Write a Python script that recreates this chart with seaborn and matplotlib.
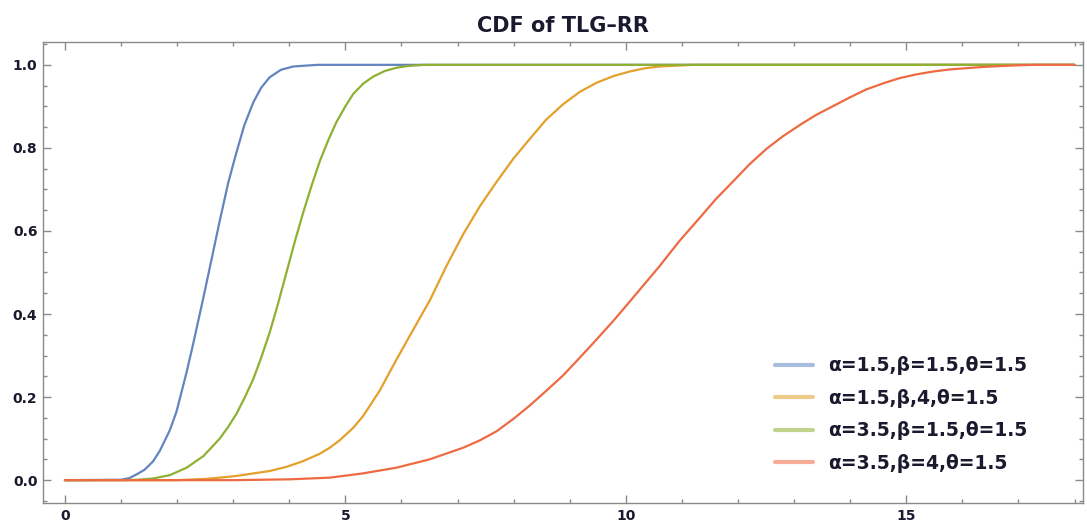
import pandas as pd
import matplotlib
matplotlib.use("Agg")
import matplotlib.pyplot as plt
import seaborn as sns
from matplotlib.ticker import MultipleLocator, FormatStrFormatter

# values
blue_x = [0, 1.0, 1.15, 1.28, 1.42, 1.57, 1.69, 1.87, 1.99, 2.17, 2.29, 2.47, 2.62, 2.76, 2.91,
          3.06, 3.2, 3.36, 3.5, 3.65, 3.85, 4.07, 4.5, 18]
blue_y = [0, 0.001, 0.005, 0.014, 0.025, 0.045, 0.07, 0.12, 0.165, 0.26, 0.33, 0.44, 0.535, 0.624, 0.715,
          0.79, 0.855, 0.91, 0.945, 0.97, 0.988, 0.996, 1.0, 1.0]

orange_x = [0, 2.0, 2.5, 2.76, 3.05, 3.35, 3.65, 3.95, 4.25, 4.55, 4.72, 4.9, 5.14, 5.32, 5.61, 5.91,
            6.2, 6.51, 6.8, 7.1, 7.4, 7.7, 8.0, 8.29, 8.58, 8.88, 9.18, 9.48, 9.78, 10.07, 10.35,
            10.6, 11.2, 18]
orange_y = [0, 0, 0.003, 0.006, 0.01, 0.016, 0.022, 0.032, 0.046, 0.064, 0.078, 0.096, 0.126, 0.155,
            0.215, 0.29, 0.36, 0.434, 0.515, 0.592, 0.66, 0.719, 0.775, 0.822, 0.868, 0.905, 0.935,
            0.957, 0.973, 0.984, 0.992, 0.996, 1.0, 1.0]

green_x = [0, 1.0, 1.3, 1.57, 1.87, 2.17, 2.47, 2.76, 2.91, 3.06, 3.21, 3.36, 3.5, 3.65, 3.8, 3.95,
           4.1, 4.25, 4.4, 4.55, 4.7, 4.84, 5.0, 5.14, 5.32, 5.5, 5.7, 5.91, 6.1, 6.4, 18]
green_y = [0, 0, 0.001, 0.004, 0.012, 0.03, 0.058, 0.10, 0.128, 0.16, 0.2, 0.244, 0.295, 0.355, 0.425,
           0.5, 0.575, 0.645, 0.71, 0.77, 0.82, 0.862, 0.9, 0.93, 0.955, 0.972, 0.985, 0.993, 0.997,
           1.0, 1.0]

red_x = [0, 3.0, 4.0, 4.72, 5.3, 5.91, 6.5, 7.1, 7.4, 7.7, 8.0, 8.29, 8.58, 8.88, 9.18, 9.48, 9.78,
         10.07, 10.35, 10.6, 10.95, 11.32, 11.6, 11.91, 12.2, 12.51, 12.8, 13.1, 13.4, 13.7, 14.0,
         14.29, 14.6, 14.88, 15.18, 15.48, 15.78, 16.07, 16.37, 16.67, 17.0, 17.3, 18.0]
red_y = [0, 0, 0.002, 0.006, 0.016, 0.03, 0.05, 0.078, 0.096, 0.118, 0.148, 0.18, 0.215, 0.252, 0.295,
         0.339, 0.384, 0.43, 0.475, 0.515, 0.575, 0.632, 0.676, 0.719, 0.76, 0.798, 0.828, 0.855, 0.88,
         0.901, 0.922, 0.941, 0.956, 0.968, 0.977, 0.984, 0.989, 0.992, 0.995, 0.997, 0.999, 1.0, 1.0]

labels = [
    "α=1.5,β=1.5,θ=1.5",
    "α=1.5,β,4,θ=1.5",
    "α=3.5,β=1.5,θ=1.5",
    "α=3.5,β=4,θ=1.5",
]
colors = ["#6285BE", "#E3A12C", "#8FB032", "#EE6A42"]

frames = []
for lab, xs, ys in zip(labels, [blue_x, orange_x, green_x, red_x], [blue_y, orange_y, green_y, red_y]):
    frames.append(pd.DataFrame({"x": xs, "y": ys, "series": lab}))
df = pd.concat(frames, ignore_index=True)

sns.set_theme(style="ticks")
plt.rcParams["font.family"] = ["DejaVu Sans"]
plt.rcParams["font.weight"] = "bold"

fig = plt.figure(figsize=(10.87, 5.27), dpi=100)
ax = fig.add_axes([43 / 1087, 24 / 527, 1040 / 1087, 461 / 527])

sns.lineplot(data=df, x="x", y="y", hue="series", hue_order=labels,
             palette=dict(zip(labels, colors)), estimator=None, sort=True,
             linewidth=1.6, ax=ax)

ax.set_xlim(-0.39, 18.15)
ax.set_ylim(-0.055, 1.055)
ax.set_xlabel("")
ax.set_ylabel("")
ax.set_title("CDF of TLG–RR", fontsize=15, fontweight="bold", color="#1a1a2e", pad=7)

ax.xaxis.set_major_locator(MultipleLocator(5))
ax.xaxis.set_minor_locator(MultipleLocator(1))
ax.yaxis.set_major_locator(MultipleLocator(0.2))
ax.yaxis.set_minor_locator(MultipleLocator(0.05))
ax.yaxis.set_major_formatter(FormatStrFormatter("%.1f"))

gray = "#8a8a8a"
for sp in ax.spines.values():
    sp.set_color(gray)
    sp.set_linewidth(1.0)
ax.tick_params(which="both", direction="in", color=gray, top=True, right=True,
               labelsize=10, labelcolor="#1a1a2e", width=1.0)
ax.tick_params(which="major", length=6, pad=4)
ax.tick_params(which="minor", length=3)
for t in ax.get_xticklabels() + ax.get_yticklabels():
    t.set_fontweight("bold")

handles, labs = ax.get_legend_handles_labels()
leg = ax.legend(handles, labs, loc="upper left", bbox_to_anchor=(0.704, 0.318),
                frameon=False, fontsize=13.5, handlelength=2.0, handletextpad=0.8,
                labelspacing=0.72, borderpad=0, borderaxespad=0)
for h in leg.get_lines():
    h.set_linewidth(3)
    h.set_alpha(0.55)
for t in leg.get_texts():
    t.set_fontweight("bold")
    t.set_color("#1a1a2e")

fig.savefig("out.png", dpi=100)
